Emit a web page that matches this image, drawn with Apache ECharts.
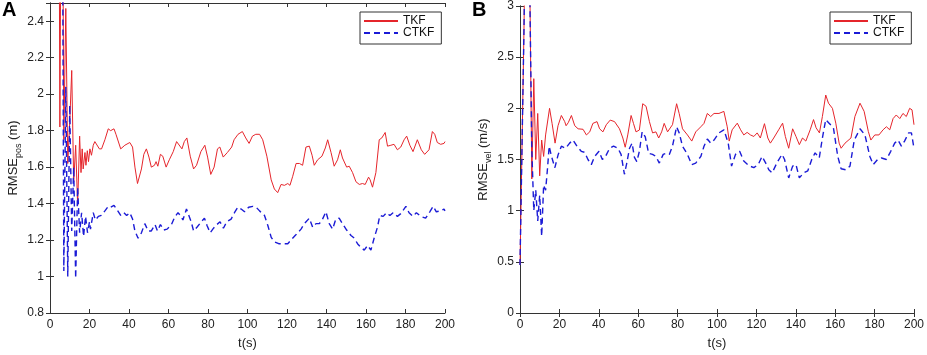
<!DOCTYPE html>
<html>
<head>
<meta charset="utf-8">
<script src="https://cdn.jsdelivr.net/npm/echarts@6/dist/echarts.min.js"></script>
<style>
  html, body { margin: 0; padding: 0; background: #fff; }
  #chart { width: 927px; height: 355px; }
</style>
</head>
<body>
<div id="chart"></div>
<script>
// panel A: position RMSE, t in seconds
var tkfA_t = [4,5,6,7,8,9,10,11,12,13,14,15,15.7,16.3,16.8,17.7,18.2,18.9,19.5,20.2,21,21.9,22.7,23.6,25,26.1,27.8,29.5,30.7,32.4,33.4,35.8,37.9,40.4,41.8,43,44.3,45.1,46.3,47.5,48.8,50.1,51.3,52.9,53.7,54.6,55.9,57.1,58.8,60.4,62.4,64.1,65.1,66.8,68,69.3,71,72.7,74.2,76.4,78.4,79.8,81.4,83.1,84.8,86,87.7,89.8,92,93.2,95.2,97.4,99.1,100.8,102.5,104.2,106.1,107.7,109.8,112,113.6,115.3,117,118.7,120.4,121.5,122.9,124.6,126.3,127.9,129.6,131.3,132.7,133.8,135.5,137.7,139.4,140.6,142.3,143.9,145.6,147,148.1,150.2,151.5,153.2,154.9,156.6,158.2,159.6,161.3,162.1,163.3,165,166.7,168,169.7,170.9,172.6,174.2,175.9,177.6,179.3,180.6,182.2,183.8,186,188,189.7,191.9,193.6,194.8,196.1,197.8,199.5,200]
var tkfA_v = [5.0,1.82,4.0,1.75,2.47,1.62,1.85,2.13,1.52,1.72,1.39,1.77,1.57,1.70,1.59,1.68,1.61,1.69,1.63,1.70,1.665,1.72,1.74,1.73,1.70,1.70,1.75,1.81,1.80,1.81,1.78,1.70,1.72,1.735,1.71,1.60,1.51,1.505,1.59,1.67,1.70,1.655,1.60,1.61,1.63,1.605,1.67,1.66,1.60,1.64,1.685,1.74,1.75,1.70,1.74,1.76,1.66,1.59,1.61,1.685,1.72,1.655,1.56,1.60,1.70,1.71,1.655,1.68,1.71,1.75,1.78,1.795,1.76,1.73,1.77,1.78,1.78,1.75,1.66,1.53,1.48,1.46,1.505,1.50,1.51,1.50,1.55,1.62,1.62,1.61,1.71,1.715,1.665,1.61,1.64,1.66,1.705,1.75,1.68,1.605,1.64,1.695,1.65,1.60,1.605,1.57,1.52,1.505,1.51,1.505,1.545,1.53,1.49,1.57,1.75,1.76,1.79,1.715,1.72,1.725,1.695,1.71,1.75,1.77,1.72,1.685,1.75,1.695,1.67,1.695,1.795,1.78,1.735,1.725,1.73,1.74]

var ctkfA_t = [6,7,8,9,10,11,12,13,14,15,16,17,18,19,20,20.5,21.9,23,24.5,26,27.8,29.5,30.7,32.4,33.7,35.8,37.4,38.8,40.4,41.8,43,44.6,46.3,48,49.7,51.3,53.2,54.4,55.9,57.6,59.3,61.5,63.1,64.8,66,67.3,69.1,70.1,71.5,72.7,74.4,76.6,78.2,79.5,81.1,82.8,84.5,86.1,87.8,89.5,91.7,93.4,95.1,96.8,98.5,100.6,102.7,104.4,106.1,108.6,110.3,112,113.6,115.8,117.8,120.4,122,124.6,127.1,128.8,131.3,133,134.7,136.4,138,139.7,141.4,143.1,144.7,146.4,148.1,150.2,152.4,154.1,155.7,157.4,159.1,160.8,162.5,164.1,165.8,167,168.7,170.4,172.1,173.7,175.9,177.6,180.2,181.8,183.8,185.5,187.7,190.2,192.3,194,195.6,197.8,199.5,200]
var ctkfA_v = [4.0,1.03,2.04,1.0,1.94,1.25,1.6,0.99,1.49,1.24,1.35,1.22,1.33,1.24,1.30,1.26,1.35,1.31,1.33,1.335,1.36,1.385,1.38,1.39,1.37,1.335,1.35,1.335,1.35,1.315,1.25,1.21,1.24,1.29,1.25,1.25,1.285,1.25,1.285,1.255,1.26,1.285,1.325,1.35,1.335,1.31,1.37,1.38,1.30,1.25,1.27,1.30,1.32,1.28,1.24,1.265,1.285,1.30,1.265,1.30,1.315,1.35,1.38,1.37,1.355,1.38,1.385,1.38,1.36,1.335,1.28,1.215,1.19,1.18,1.18,1.18,1.20,1.23,1.26,1.29,1.32,1.27,1.29,1.29,1.315,1.355,1.29,1.26,1.315,1.32,1.29,1.255,1.225,1.21,1.18,1.16,1.145,1.17,1.145,1.21,1.27,1.335,1.33,1.35,1.335,1.35,1.33,1.345,1.385,1.35,1.33,1.35,1.33,1.32,1.355,1.385,1.355,1.36,1.37,1.36]

// panel B: velocity RMSE
var tkfB_t = [0,1,2,3,4,5,6,7,8,9,10,11,12,13,14,15,16.3,17.8,19.3,21,22.7,23.4,24.5,26.1,27.8,29.5,32,33.7,35.4,37,39.1,40.4,42.1,43.8,45.8,48,50.5,52.2,53.4,54.7,56.4,57.6,58.9,60.6,62.3,64,65.7,67.3,69,70.4,71.9,73.2,74.9,77.4,79.5,80.8,82.5,85,87.2,89.2,91.8,93.4,95.1,96.8,98.5,101,103.5,105.2,106.2,107.7,110.3,112,113.6,115.3,117,118.7,120.4,122,124.1,125.8,127.1,128.8,131.3,133.3,134.7,136.4,138.4,140.1,141.8,143.4,145.1,147.3,149,150.3,152,153.5,155.2,156.6,158.6,160.3,162,163,165,168,170,172.6,174.7,176.8,178.1,180.1,182.2,184.3,186,187.7,189.4,191,192.8,194.4,196.1,197.8,199,200]
var tkfB_v = [0.47,1.6,2.75,4.2,4.0,3.2,1.31,2.29,1.5,1.95,1.34,1.69,1.53,1.74,1.74,2.0,1.85,1.66,1.83,1.93,1.87,1.83,1.86,1.93,1.83,1.80,1.795,1.74,1.77,1.853,1.87,1.80,1.77,1.84,1.885,1.87,1.80,1.71,1.62,1.74,1.93,1.853,1.77,1.788,2.045,2.02,1.87,1.76,1.77,1.71,1.77,1.853,1.77,1.84,2.045,1.95,1.80,1.74,1.68,1.77,1.82,1.853,1.95,1.92,1.95,1.95,1.97,1.82,1.68,1.79,1.855,1.79,1.74,1.765,1.74,1.725,1.76,1.71,1.85,1.71,1.66,1.71,1.79,1.855,1.725,1.61,1.80,1.725,1.645,1.71,1.68,1.79,1.89,1.81,1.76,1.92,2.13,2.05,2.0,1.855,1.66,1.61,1.66,1.71,1.92,2.05,1.97,1.775,1.69,1.74,1.74,1.79,1.82,1.79,1.90,1.935,1.90,1.95,1.92,2.0,1.985,1.84]

var ctkfB_t = [0,1,2,3,4,5,6,7,8,9,10,11,12,13,14,14.8,16,17.7,19.4,21,23.2,25.2,26.9,28.9,31.1,32.8,34.5,36.2,37.9,40.1,41.8,43.4,45.5,47.5,49.7,51.3,53,54.2,55.6,56.9,58.1,59.3,60.6,62,63.6,65.3,67.3,69,70.7,72.7,74.1,75.8,77.4,79.5,80.8,82.5,85,87.2,89.2,91.8,93.4,95.1,96.8,98.5,101,103.5,105.7,107.4,109.4,111.5,113.6,116.2,118.7,120.9,122.9,124.6,126.3,128,130.5,133,134.3,136.4,138.4,140.1,141.8,144,146.1,148.1,149.8,151.9,153.5,155.2,156.9,159.1,161.3,163,165.3,167.5,169.7,172.6,175.1,177.6,179.3,181.5,183.5,186,188.2,190.2,191.9,193.6,195.2,197.3,198.7,200]
var ctkfB_v = [0.47,1.6,2.75,4.2,4.0,3.1,1.6,1.0,1.2,0.9,1.15,0.75,1.25,1.2,1.42,1.63,1.53,1.42,1.55,1.63,1.61,1.66,1.69,1.63,1.58,1.57,1.50,1.45,1.53,1.58,1.50,1.53,1.61,1.63,1.61,1.55,1.356,1.465,1.61,1.66,1.52,1.48,1.58,1.77,1.72,1.56,1.55,1.53,1.465,1.55,1.56,1.55,1.63,1.82,1.76,1.63,1.55,1.45,1.465,1.53,1.63,1.70,1.66,1.69,1.76,1.79,1.66,1.435,1.55,1.58,1.485,1.44,1.42,1.45,1.53,1.47,1.40,1.37,1.47,1.55,1.50,1.32,1.435,1.45,1.32,1.37,1.39,1.50,1.565,1.515,1.71,1.89,1.855,1.81,1.53,1.41,1.40,1.435,1.69,1.80,1.74,1.53,1.45,1.50,1.515,1.50,1.58,1.66,1.69,1.63,1.68,1.76,1.76,1.61]

var legendNames = ['TKF', 'CTKF']

var FONT = '"Liberation Sans", Arial, sans-serif'
var AX = '#333'

function pairs(t, v) {
    return t.map(function (x, i) { return [x, v[i]] })
}

function frameAxis(gridIndex, position, min, max, interval) {
    return {
        type: 'value', gridIndex: gridIndex, position: position,
        min: min, max: max, interval: interval,
        axisLine: { show: true, lineStyle: { color: AX, width: 1 } },
        axisTick: { show: true, inside: true, length: 4, lineStyle: { color: AX } },
        axisLabel: { show: false },
        splitLine: { show: false }
    }
}

function mainX(gridIndex) {
    var a = frameAxis(gridIndex, 'bottom', 0, 200, 20)
    a.axisLabel = { show: true, fontSize: 12, color: '#222', fontFamily: FONT, margin: 6 }
    a.name = 't(s)'
    a.nameLocation = 'middle'
    a.nameGap = 24
    a.nameTextStyle = { fontSize: 13, color: '#222', fontFamily: FONT }
    return a
}

function mainY(gridIndex, min, max, interval, sub, unit) {
    var a = frameAxis(gridIndex, 'left', min, max, interval)
    a.axisLabel = { show: true, fontSize: 12, color: '#222', fontFamily: FONT, margin: 6, showMaxLabel: interval === 0.5 }
    a.name = '{m|RMSE}{s|' + sub + '}{m| ' + unit + '}'
    a.nameLocation = 'middle'
    a.nameGap = 23
    a.nameRotate = 90
    a.nameTextStyle = {
        rich: {
            m: { fontSize: 13, lineHeight: 20, color: '#222', fontFamily: FONT },
            s: { fontSize: 9, verticalAlign: 'bottom', color: '#222', fontFamily: FONT }
        }
    }
    return a
}

function lineSeries(name, xi, yi, data, color, dashed) {
    return {
        name: name, type: 'line', xAxisIndex: xi, yAxisIndex: yi,
        data: data, symbol: 'none', clip: true, animation: false,
        lineStyle: { color: color, width: dashed ? 1.4 : 1, type: dashed ? [6, 4] : 'solid' },
        itemStyle: { color: color }
    }
}

function legendAt(left) {
    return {
        data: legendNames, orient: 'vertical', left: left, top: 12,
        backgroundColor: '#fff', borderColor: '#333', borderWidth: 1, borderRadius: 0,
        padding: [3, 7, 5, 3], itemGap: 0, itemWidth: 34, itemHeight: 12,
        itemStyle: { opacity: 0 },
        textStyle: { fontSize: 12, color: '#111', fontFamily: FONT },
        selectedMode: false
    }
}

var chart = echarts.init(document.getElementById('chart'))
chart.setOption({
    animation: false,
    backgroundColor: '#fff',
    title: [
        { text: 'A', left: 2, top: 0, padding: 0, textStyle: { fontSize: 20, fontWeight: 'bold', color: '#000', fontFamily: FONT } },
        { text: 'B', left: 472, top: 0, padding: 0, textStyle: { fontSize: 20, fontWeight: 'bold', color: '#000', fontFamily: FONT } }
    ],
    grid: [
        { left: 50, top: 3, width: 395, height: 313 },
        { left: 520, top: 3, width: 395, height: 313 }
    ],
    legend: [legendAt(360), legendAt(830)],
    xAxis: [
        mainX(0), frameAxis(0, 'top', 0, 200, 20),
        mainX(1), frameAxis(1, 'top', 0, 200, 20)
    ],
    yAxis: [
        mainY(0, 0.8, 2.5, 0.2, 'pos', '(m)'), frameAxis(0, 'right', 0.8, 2.5, 0.2),
        mainY(1, 0, 3, 0.5, 'vel', '(m/s)'), frameAxis(1, 'right', 0, 3, 0.5)
    ],
    series: [
        lineSeries('TKF', 0, 0, pairs(tkfA_t, tkfA_v), '#e5252b', false),
        lineSeries('CTKF', 0, 0, pairs(ctkfA_t, ctkfA_v), '#1b1bd6', true),
        lineSeries('TKF', 2, 2, pairs(tkfB_t, tkfB_v), '#e5252b', false),
        lineSeries('CTKF', 2, 2, pairs(ctkfB_t, ctkfB_v), '#1b1bd6', true)
    ]
})
</script>
</body>
</html>
